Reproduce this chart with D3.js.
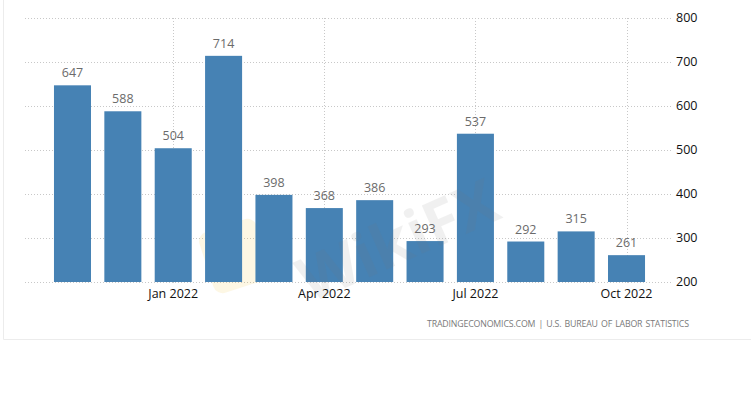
<!DOCTYPE html>
<html>
<head>
<meta charset="utf-8">
<script src="https://cdn.jsdelivr.net/npm/d3@7"></script>
<style>
  body { margin: 0; background: #fff; }
  #chart { width: 751px; height: 395px; }
</style>
</head>
<body>
<div id="chart"></div>
<script>
// monthly values, Nov 2021 .. Oct 2022
var months = ["Nov 2021", "Dec 2021", "Jan 2022", "Feb 2022", "Mar 2022", "Apr 2022",
              "May 2022", "Jun 2022", "Jul 2022", "Aug 2022", "Sep 2022", "Oct 2022"];
var values = [647, 588, 504, 714, 398, 368, 386, 293, 537, 292, 315, 261];
var xTickLabels = ["Jan 2022", "Apr 2022", "Jul 2022", "Oct 2022"];
var yTicks = [200, 300, 400, 500, 600, 700, 800];
var footer = "TRADINGECONOMICS.COM | U.S. BUREAU OF LABOR STATISTICS";

var width = 751, height = 395;
var plotLeft = 25, plotRight = 672, plotTop = 18, plotBottom = 282;

var svg = d3.select("#chart").append("svg")
  .attr("width", width)
  .attr("height", height);

// outer frame (left + bottom edge)
svg.append("path")
  .attr("d", "M3.5,0V339.5H751")
  .attr("fill", "none")
  .attr("stroke", "#ececec")
  .attr("stroke-width", 1);

var x = d3.scaleBand()
  .domain(months)
  .range([47.3, 651.7])
  .paddingInner(0.265)
  .paddingOuter(0.1325);

var y = d3.scaleLinear().domain([200, 800]).range([plotBottom, plotTop]);

// horizontal grid
svg.append("g").selectAll("line")
  .data(yTicks)
  .join("line")
  .attr("x1", plotLeft).attr("x2", plotRight)
  .attr("y1", d => Math.round(y(d)) + 0.5)
  .attr("y2", d => Math.round(y(d)) + 0.5)
  .attr("stroke", "#c8c8c8")
  .attr("stroke-dasharray", "1,2");

// vertical grid at the labelled months
svg.append("g").selectAll("line")
  .data(xTickLabels)
  .join("line")
  .attr("x1", d => Math.round(x(d) + x.bandwidth() / 2) + 0.5)
  .attr("x2", d => Math.round(x(d) + x.bandwidth() / 2) + 0.5)
  .attr("y1", plotTop).attr("y2", plotBottom + 3)
  .attr("stroke", "#c8c8c8")
  .attr("stroke-dasharray", "1,2");

// faint watermark logo
var wm = svg.append("g").attr("opacity", 0.1);
wm.append("rect")
  .attr("x", 205).attr("y", 224)
  .attr("width", 60).attr("height", 64)
  .attr("rx", 10)
  .attr("transform", "rotate(-18,235,256)")
  .attr("fill", "#f0b400");

// bars
svg.append("g").selectAll("rect")
  .data(values)
  .join("rect")
  .attr("x", (d, i) => x(months[i]))
  .attr("width", x.bandwidth())
  .attr("y", d => y(d))
  .attr("height", d => plotBottom - y(d))
  .attr("fill", "#4682b4");

svg.append("text")
  .attr("x", 400).attr("y", 262)
  .attr("text-anchor", "middle")
  .attr("transform", "rotate(-24,400,245)")
  .attr("font-family", "Open Sans, sans-serif")
  .attr("font-weight", "bold")
  .attr("font-size", 62)
  .attr("fill", "#777")
  .attr("opacity", 0.1)
  .text("WikiFX");

// value labels
svg.append("g").selectAll("text")
  .data(values)
  .join("text")
  .attr("x", (d, i) => x(months[i]) + x.bandwidth() / 2)
  .attr("y", d => y(d) - 8)
  .attr("text-anchor", "middle")
  .attr("font-family", "Open Sans, sans-serif")
  .attr("font-size", 12.5)
  .attr("fill", "#6b6b6b")
  .text(d => d);

// y axis labels (right side)
svg.append("g").selectAll("text")
  .data(yTicks)
  .join("text")
  .attr("x", 676)
  .attr("y", d => y(d))
  .attr("dy", "0.35em")
  .attr("font-family", "Open Sans, sans-serif")
  .attr("font-size", 12.5)
  .attr("fill", "#111")
  .text(d => d);

// x axis labels
svg.append("g").selectAll("text")
  .data(xTickLabels)
  .join("text")
  .attr("x", d => x(d) + x.bandwidth() / 2)
  .attr("y", 294)
  .attr("dy", "0.35em")
  .attr("text-anchor", "middle")
  .attr("font-family", "Open Sans, sans-serif")
  .attr("font-size", 12.5)
  .attr("fill", "#111")
  .text(d => d);

// source line
svg.append("text")
  .attr("x", 689)
  .attr("y", 324)
  .attr("dy", "0.35em")
  .attr("text-anchor", "end")
  .attr("font-family", "Open Sans, sans-serif")
  .attr("font-size", 8.8)
  .attr("word-spacing", 1)
  .attr("textLength", 262)
  .attr("lengthAdjust", "spacing")
  .attr("fill", "#7a7a7a")
  .text(footer);
</script>
</body>
</html>
